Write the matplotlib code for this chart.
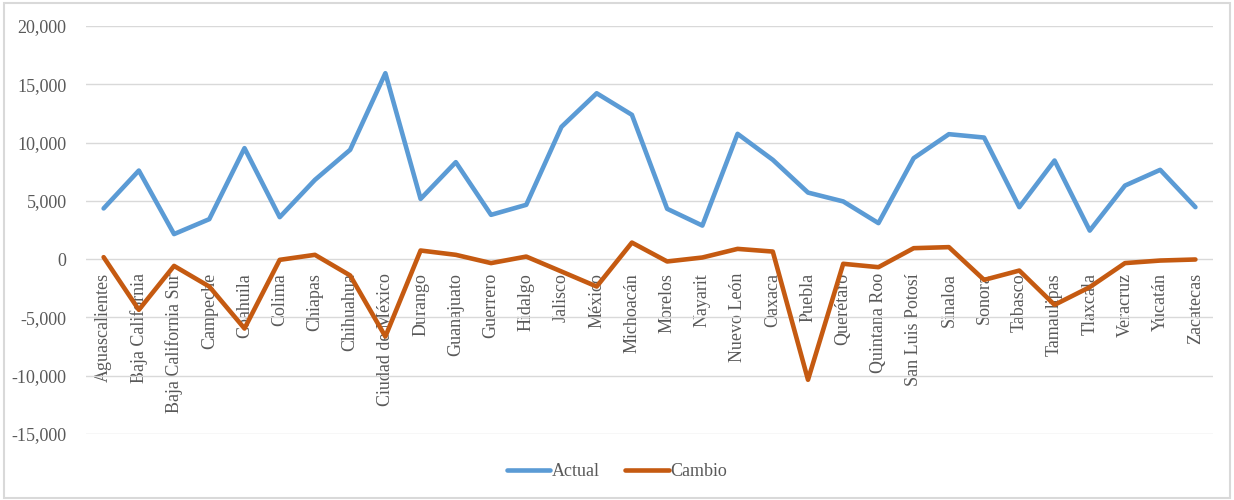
import matplotlib.pyplot as plt
from matplotlib.patches import Rectangle
from matplotlib.ticker import FuncFormatter

plt.rcParams['font.family'] = ['Liberation Serif', 'DejaVu Serif']

estados = ['Aguascalientes', 'Baja California', 'Baja California Sur', 'Campeche',
           'Coahuila', 'Colima', 'Chiapas', 'Chihuahua', 'Ciudad de México',
           'Durango', 'Guanajuato', 'Guerrero', 'Hidalgo', 'Jalisco', 'México',
           'Michoacán', 'Morelos', 'Nayarit', 'Nuevo León', 'Oaxaca', 'Puebla',
           'Querétaro', 'Quintana Roo', 'San Luis Potosí', 'Sinaloa', 'Sonora',
           'Tabasco', 'Tamaulipas', 'Tlaxcala', 'Veracruz', 'Yucatán', 'Zacatecas']

actual = [4350, 7600, 2150, 3430, 9520, 3600, 6800, 9380, 15950,
          5170, 8320, 3800, 4660, 11350, 14230, 12380, 4320, 2880, 10750,
          8520, 5710, 4950, 3090, 8660, 10720, 10430, 4460, 8460, 2450,
          6310, 7660, 4460]

cambio = [170, -4350, -580, -2350, -5950, -60, 370, -1400, -6640,
          740, 370, -340, 220, -1060, -2350, 1420, -200, 140, 880,
          650, -10350, -400, -690, 940, 1030, -1780, -980, -3920, -2400,
          -340, -120, -30]

fig = plt.figure(figsize=(12.34, 5), dpi=100)
ax = fig.add_axes([0.0697, 0.132, 0.9133, 0.816])

x = range(len(estados))
ax.plot(x, actual, color='#5B9BD5', lw=3.3, label='Actual', solid_capstyle='round')
ax.plot(x, cambio, color='#C55A11', lw=3.3, label='Cambio', solid_capstyle='round')

ax.set_xlim(-0.5, len(estados) - 0.5)
ax.set_ylim(-15000, 20000)
ax.set_yticks(range(-15000, 20001, 5000))
ax.yaxis.set_major_formatter(FuncFormatter(lambda v, p: f'{int(v):,}'))
ax.grid(axis='y', color='#D9D9D9', lw=1)
ax.set_axisbelow(True)

for s in ['top', 'right', 'left']:
    ax.spines[s].set_visible(False)
ax.spines['bottom'].set_position(('data', 0))
ax.spines['bottom'].set_visible(False)

ax.set_xticks(list(x))
ax.set_xticklabels(estados, rotation=90, va='top', ha='center')
ax.tick_params(axis='x', length=0, pad=10, labelsize=13, labelcolor='#595959')
ax.tick_params(axis='y', length=0, pad=14, labelsize=13, labelcolor='#595959')

fig.legend(loc='center', bbox_to_anchor=(0.5, 0.056), ncol=2, frameon=False,
           fontsize=13, handlelength=2.4, handletextpad=0.1, columnspacing=1.4,
           labelcolor='#595959')

fig.patches.append(Rectangle((0.003, 0.005), 0.994, 0.99, transform=fig.transFigure,
                             fill=False, edgecolor='#D9D9D9', lw=1.5))

fig.savefig('out.png', dpi=100)
